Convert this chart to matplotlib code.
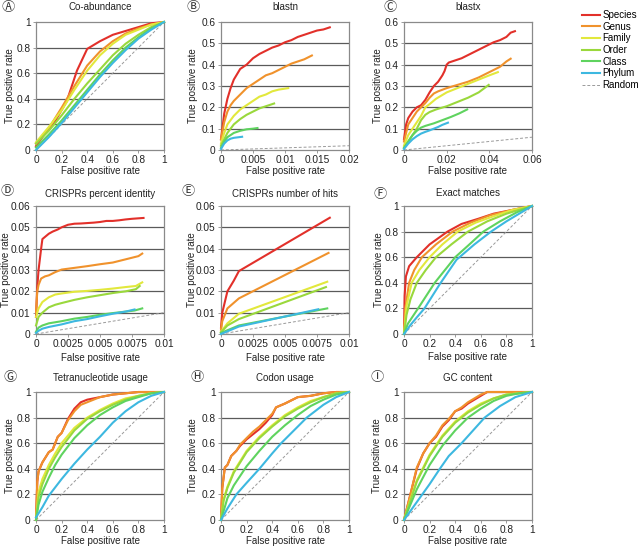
import matplotlib
matplotlib.use("Agg")
import matplotlib.pyplot as plt
from matplotlib.ticker import FuncFormatter

plt.rcParams['font.family'] = ['Liberation Sans', 'DejaVu Sans']

series_names = ["Species", "Genus", "Family", "Order", "Class", "Phylum"]
series_colors = ["#e2302a", "#f0922c", "#e2e83c", "#9ad83c", "#5fd35f", "#3db8e0"]

# (A) Co-abundance
a_species = [(0, 0.03), (0.1, 0.17), (0.14, 0.21), (0.24, 0.38), (0.32, 0.62), (0.4, 0.79),
             (0.5, 0.85), (0.6, 0.9), (0.7, 0.93), (0.8, 0.96), (0.9, 0.99), (1, 1)]
a_genus = [(0, 0.05), (0.1, 0.17), (0.2, 0.33), (0.3, 0.5), (0.4, 0.66), (0.5, 0.77),
           (0.6, 0.85), (0.7, 0.91), (0.8, 0.95), (0.9, 0.98), (1, 1)]
a_family = [(0, 0.06), (0.1, 0.18), (0.2, 0.31), (0.3, 0.47), (0.4, 0.62), (0.5, 0.74),
            (0.6, 0.83), (0.7, 0.9), (0.8, 0.94), (0.9, 0.98), (1, 1)]
a_order = [(0, 0.05), (0.1, 0.15), (0.2, 0.27), (0.3, 0.4), (0.4, 0.52), (0.5, 0.63),
           (0.6, 0.74), (0.7, 0.83), (0.8, 0.9), (0.9, 0.96), (1, 1)]
a_class = [(0, 0.02), (0.1, 0.12), (0.2, 0.23), (0.3, 0.35), (0.4, 0.47), (0.5, 0.59),
           (0.6, 0.7), (0.7, 0.8), (0.8, 0.88), (0.9, 0.95), (1, 1)]
a_phylum = [(0, 0), (0.1, 0.1), (0.2, 0.21), (0.3, 0.33), (0.4, 0.45), (0.5, 0.57),
            (0.6, 0.68), (0.7, 0.78), (0.8, 0.87), (0.9, 0.94), (1, 1)]

# (B) blastn
b_species = [(0, 0.05), (0.0003, 0.12), (0.0005, 0.17), (0.001, 0.24), (0.0015, 0.29), (0.002, 0.33),
             (0.003, 0.38), (0.004, 0.40), (0.005, 0.43), (0.006, 0.45), (0.007, 0.465), (0.008, 0.48),
             (0.009, 0.49), (0.01, 0.505), (0.011, 0.515), (0.012, 0.53), (0.013, 0.54), (0.014, 0.55),
             (0.015, 0.56), (0.016, 0.565), (0.017, 0.575)]
b_genus = [(0, 0.05), (0.0005, 0.13), (0.001, 0.18), (0.0015, 0.21), (0.002, 0.23), (0.003, 0.26),
           (0.004, 0.29), (0.005, 0.31), (0.006, 0.33), (0.007, 0.35), (0.008, 0.36), (0.009, 0.375),
           (0.01, 0.39), (0.011, 0.405), (0.012, 0.415), (0.013, 0.425), (0.0142, 0.443)]
b_family = [(0, 0.03), (0.0005, 0.08), (0.001, 0.12), (0.002, 0.16), (0.003, 0.19), (0.004, 0.21),
            (0.005, 0.23), (0.006, 0.25), (0.007, 0.26), (0.008, 0.275), (0.009, 0.283), (0.0105, 0.29)]
b_order = [(0, 0.02), (0.0005, 0.05), (0.001, 0.08), (0.002, 0.12), (0.003, 0.145), (0.004, 0.165),
           (0.005, 0.18), (0.006, 0.195), (0.007, 0.205), (0.0083, 0.218)]
b_class = [(0, 0.01), (0.0005, 0.04), (0.001, 0.06), (0.002, 0.08), (0.003, 0.09), (0.004, 0.097),
           (0.005, 0.1), (0.0057, 0.103)]
b_phylum = [(0, 0.005), (0.0005, 0.03), (0.001, 0.045), (0.0015, 0.053), (0.002, 0.057), (0.0033, 0.062)]

# (C) blastx
c_species = [(0, 0.05), (0.001, 0.12), (0.002, 0.15), (0.004, 0.18), (0.006, 0.2), (0.008, 0.21),
             (0.01, 0.235), (0.012, 0.27), (0.014, 0.3), (0.016, 0.32), (0.018, 0.35), (0.019, 0.37),
             (0.02, 0.4), (0.021, 0.41), (0.024, 0.42), (0.027, 0.43), (0.03, 0.445), (0.033, 0.46),
             (0.036, 0.475), (0.039, 0.49), (0.042, 0.505), (0.045, 0.515), (0.048, 0.53), (0.05, 0.55),
             (0.052, 0.557)]
c_genus = [(0, 0.04), (0.002, 0.12), (0.004, 0.15), (0.006, 0.18), (0.008, 0.2), (0.01, 0.22),
           (0.012, 0.245), (0.014, 0.265), (0.016, 0.275), (0.02, 0.29), (0.025, 0.305), (0.03, 0.32),
           (0.035, 0.34), (0.04, 0.365), (0.045, 0.39), (0.048, 0.415), (0.05, 0.428)]
c_family = [(0, 0.02), (0.002, 0.07), (0.004, 0.1), (0.006, 0.13), (0.008, 0.16), (0.01, 0.2),
            (0.012, 0.215), (0.015, 0.24), (0.02, 0.27), (0.025, 0.29), (0.03, 0.31), (0.035, 0.33),
            (0.04, 0.35), (0.044, 0.365)]
c_order = [(0, 0.01), (0.002, 0.04), (0.004, 0.07), (0.006, 0.1), (0.008, 0.14), (0.01, 0.165),
           (0.012, 0.178), (0.015, 0.19), (0.02, 0.205), (0.025, 0.225), (0.03, 0.245), (0.035, 0.27),
           (0.0397, 0.305)]
c_class = [(0, 0.01), (0.002, 0.04), (0.004, 0.07), (0.006, 0.09), (0.008, 0.105), (0.01, 0.113),
           (0.014, 0.125), (0.018, 0.14), (0.022, 0.155), (0.026, 0.172), (0.0296, 0.19)]
c_phylum = [(0, 0.005), (0.002, 0.03), (0.004, 0.05), (0.006, 0.065), (0.008, 0.077), (0.01, 0.085),
            (0.012, 0.092), (0.014, 0.1), (0.016, 0.108), (0.018, 0.118), (0.0206, 0.128)]

# (D) CRISPRs percent identity
d_species = [(0, 0.008), (0.0001, 0.022), (0.0002, 0.03), (0.0003, 0.035), (0.0004, 0.04),
             (0.0005, 0.0445), (0.0008, 0.046), (0.001, 0.047), (0.0013, 0.048), (0.0017, 0.049),
             (0.002, 0.05), (0.0025, 0.0512), (0.003, 0.0517), (0.0035, 0.0518), (0.004, 0.052),
             (0.0045, 0.0522), (0.005, 0.0525), (0.0055, 0.053), (0.006, 0.053), (0.0065, 0.0533),
             (0.007, 0.0537), (0.0075, 0.054), (0.0084, 0.0544)]
d_genus = [(0, 0.01), (0.0001, 0.02), (0.0002, 0.023), (0.0004, 0.026), (0.0007, 0.027), (0.001, 0.0275),
           (0.0015, 0.029), (0.002, 0.0302), (0.003, 0.031), (0.004, 0.0318), (0.005, 0.0327),
           (0.006, 0.0335), (0.007, 0.035), (0.008, 0.0365), (0.0083, 0.0377)]
d_family = [(0, 0.008), (0.0002, 0.012), (0.0005, 0.015), (0.001, 0.0172), (0.0015, 0.0185),
            (0.002, 0.019), (0.003, 0.0198), (0.004, 0.0202), (0.005, 0.0207), (0.006, 0.0213),
            (0.007, 0.022), (0.0078, 0.0225), (0.0083, 0.0242)]
d_order = [(0, 0.004), (0.0002, 0.008), (0.0005, 0.01), (0.001, 0.0125), (0.0015, 0.0137),
           (0.002, 0.0145), (0.003, 0.016), (0.004, 0.0172), (0.005, 0.0182), (0.006, 0.0192),
           (0.007, 0.02), (0.0078, 0.021), (0.0081, 0.0225)]
d_class = [(0, 0.001), (0.0002, 0.003), (0.0005, 0.004), (0.001, 0.005), (0.002, 0.006), (0.003, 0.0072),
           (0.004, 0.008), (0.005, 0.009), (0.006, 0.0098), (0.007, 0.0105), (0.0077, 0.011), (0.0083, 0.012)]
d_phylum = [(0, 0.0005), (0.0002, 0.0015), (0.0005, 0.0025), (0.001, 0.0033), (0.002, 0.0045),
            (0.003, 0.006), (0.004, 0.007), (0.005, 0.0083), (0.006, 0.0095), (0.007, 0.0105),
            (0.0077, 0.0115)]

# (E) CRISPRs number of hits
e_species = [(0, 0.003), (0.0001, 0.01), (0.0005, 0.02), (0.001, 0.025), (0.0014, 0.0295), (0.0085, 0.0545)]
e_genus = [(0, 0.002), (0.0001, 0.006), (0.0005, 0.012), (0.0014, 0.0167), (0.0084, 0.038)]
e_family = [(0, 0.001), (0.0005, 0.005), (0.0014, 0.0095), (0.0083, 0.0245)]
e_order = [(0, 0.0008), (0.0005, 0.004), (0.0014, 0.007), (0.0082, 0.022)]
e_class = [(0, 0.0005), (0.0014, 0.004), (0.0083, 0.012)]
e_phylum = [(0, 0), (0.0014, 0.0035), (0.0076, 0.0116)]

# (F) Exact matches
f_species = [(0, 0), (0.005, 0.3), (0.015, 0.45), (0.04, 0.53), (0.1, 0.6), (0.2, 0.7), (0.34, 0.8),
             (0.45, 0.86), (0.58, 0.9), (0.7, 0.94), (0.85, 0.97), (1, 1)]
f_genus = [(0, 0), (0.01, 0.2), (0.04, 0.4), (0.08, 0.5), (0.14, 0.6), (0.25, 0.7), (0.38, 0.8),
           (0.52, 0.87), (0.68, 0.93), (0.85, 0.97), (1, 1)]
f_family = [(0, 0), (0.02, 0.22), (0.06, 0.4), (0.12, 0.5), (0.2, 0.6), (0.3, 0.7), (0.42, 0.8),
            (0.56, 0.87), (0.7, 0.92), (0.85, 0.97), (1, 1)]
f_order = [(0, 0), (0.02, 0.15), (0.05, 0.27), (0.1, 0.4), (0.17, 0.5), (0.25, 0.6), (0.37, 0.7),
           (0.5, 0.8), (0.65, 0.88), (0.8, 0.94), (1, 1)]
f_class = [(0, 0), (0.03, 0.08), (0.11, 0.2), (0.24, 0.4), (0.4, 0.6), (0.5, 0.69), (0.62, 0.8),
           (0.75, 0.88), (0.88, 0.95), (1, 1)]
f_phylum = [(0, 0), (0.05, 0.07), (0.1, 0.13), (0.16, 0.2), (0.28, 0.39), (0.41, 0.58), (0.55, 0.7),
            (0.68, 0.8), (0.8, 0.88), (0.9, 0.94), (1, 1)]

# (G) Tetranucleotide usage
g_species = [(0, 0), (0.01, 0.3), (0.02, 0.38), (0.05, 0.45), (0.1, 0.53), (0.13, 0.55), (0.17, 0.65),
             (0.2, 0.68), (0.25, 0.79), (0.3, 0.87), (0.35, 0.92), (0.4, 0.94), (0.5, 0.96), (0.6, 0.98),
             (0.8, 1), (1, 1)]
g_genus = [(0, 0), (0.01, 0.3), (0.02, 0.38), (0.05, 0.45), (0.1, 0.53), (0.13, 0.55), (0.17, 0.65),
           (0.2, 0.68), (0.25, 0.78), (0.3, 0.85), (0.35, 0.9), (0.4, 0.92), (0.5, 0.96), (0.6, 0.98),
           (0.8, 1), (1, 1)]
g_family = [(0, 0), (0.02, 0.22), (0.05, 0.32), (0.1, 0.43), (0.15, 0.52), (0.2, 0.6), (0.3, 0.72),
            (0.4, 0.8), (0.5, 0.86), (0.6, 0.91), (0.7, 0.95), (0.8, 0.97), (0.9, 0.99), (1, 1)]
g_order = [(0, 0), (0.02, 0.18), (0.05, 0.28), (0.1, 0.4), (0.15, 0.49), (0.2, 0.57), (0.3, 0.7),
           (0.4, 0.79), (0.5, 0.85), (0.6, 0.9), (0.7, 0.94), (0.8, 0.97), (0.9, 0.99), (1, 1)]
g_class = [(0, 0), (0.02, 0.12), (0.05, 0.22), (0.1, 0.33), (0.15, 0.43), (0.2, 0.51), (0.3, 0.64),
           (0.4, 0.74), (0.5, 0.82), (0.6, 0.88), (0.7, 0.93), (0.8, 0.96), (0.9, 0.99), (1, 1)]
g_phylum = [(0, 0.02), (0.05, 0.1), (0.1, 0.19), (0.2, 0.32), (0.3, 0.44), (0.4, 0.55), (0.5, 0.65),
            (0.6, 0.76), (0.7, 0.85), (0.8, 0.92), (0.9, 0.97), (1, 1)]

# (H) Codon usage
h_species = [(0, 0), (0.01, 0.25), (0.03, 0.41), (0.05, 0.43), (0.08, 0.5), (0.12, 0.54), (0.15, 0.58),
             (0.2, 0.63), (0.25, 0.67), (0.3, 0.71), (0.35, 0.76), (0.4, 0.82), (0.43, 0.88), (0.5, 0.91),
             (0.6, 0.96), (0.7, 0.97), (0.8, 0.99), (0.9, 1), (1, 1)]
h_genus = [(0, 0), (0.01, 0.25), (0.03, 0.41), (0.05, 0.43), (0.08, 0.5), (0.12, 0.54), (0.15, 0.59),
           (0.2, 0.64), (0.25, 0.69), (0.3, 0.73), (0.35, 0.78), (0.4, 0.83), (0.43, 0.88), (0.5, 0.91),
           (0.6, 0.96), (0.7, 0.97), (0.8, 0.99), (0.9, 1), (1, 1)]
h_family = [(0, 0), (0.02, 0.16), (0.05, 0.26), (0.1, 0.38), (0.2, 0.54), (0.3, 0.65), (0.4, 0.74),
            (0.5, 0.82), (0.6, 0.88), (0.7, 0.93), (0.8, 0.96), (0.9, 0.99), (1, 1)]
h_order = [(0, 0), (0.02, 0.15), (0.05, 0.25), (0.1, 0.37), (0.2, 0.53), (0.3, 0.64), (0.4, 0.73),
           (0.5, 0.81), (0.6, 0.87), (0.7, 0.92), (0.8, 0.96), (0.9, 0.99), (1, 1)]
h_class = [(0, 0), (0.05, 0.17), (0.1, 0.27), (0.2, 0.42), (0.3, 0.54), (0.4, 0.65), (0.5, 0.74),
           (0.6, 0.82), (0.7, 0.89), (0.8, 0.94), (0.9, 0.98), (1, 1)]
h_phylum = [(0, 0), (0.05, 0.09), (0.12, 0.2), (0.2, 0.29), (0.3, 0.4), (0.4, 0.52), (0.47, 0.6),
            (0.57, 0.7), (0.67, 0.8), (0.8, 0.9), (0.9, 0.96), (1, 1)]

# (I) GC content
i_species = [(0, 0), (0.05, 0.2), (0.1, 0.4), (0.15, 0.52), (0.2, 0.6), (0.25, 0.65), (0.3, 0.73),
             (0.35, 0.78), (0.4, 0.85), (0.45, 0.87), (0.5, 0.91), (0.55, 0.94), (0.6, 0.97), (0.65, 1), (1, 1)]
i_genus = [(0, 0), (0.05, 0.2), (0.1, 0.41), (0.15, 0.52), (0.2, 0.6), (0.25, 0.66), (0.3, 0.74),
           (0.35, 0.79), (0.4, 0.85), (0.45, 0.88), (0.5, 0.92), (0.55, 0.95), (0.6, 0.98), (0.65, 1), (1, 1)]
i_family = [(0, 0), (0.05, 0.16), (0.1, 0.31), (0.2, 0.51), (0.3, 0.66), (0.4, 0.77), (0.5, 0.85),
            (0.6, 0.91), (0.7, 0.95), (0.8, 0.98), (0.9, 0.99), (1, 1)]
i_order = [(0, 0), (0.05, 0.15), (0.1, 0.3), (0.2, 0.5), (0.3, 0.65), (0.4, 0.76), (0.5, 0.84),
           (0.6, 0.9), (0.7, 0.95), (0.8, 0.98), (0.9, 0.99), (1, 1)]
i_class = [(0, 0), (0.05, 0.12), (0.1, 0.24), (0.2, 0.43), (0.3, 0.58), (0.4, 0.7), (0.5, 0.8),
           (0.6, 0.87), (0.7, 0.93), (0.8, 0.97), (0.9, 0.99), (1, 1)]
i_phylum = [(0, 0), (0.05, 0.07), (0.1, 0.14), (0.2, 0.28), (0.28, 0.4), (0.35, 0.5), (0.45, 0.6),
            (0.54, 0.7), (0.63, 0.8), (0.75, 0.89), (0.87, 0.96), (1, 1)]

panel_letters = ["Ⓐ", "Ⓑ", "Ⓒ", "Ⓓ", "Ⓔ", "Ⓕ", "Ⓖ", "Ⓗ", "Ⓘ"]
panel_titles = ["Co-abundance", "blastn", "blastx", "CRISPRs percent identity", "CRISPRs number of hits",
                "Exact matches", "Tetranucleotide usage", "Codon usage", "GC content"]
x_ticks = [[0, 0.2, 0.4, 0.6, 0.8, 1], [0, 0.005, 0.01, 0.015, 0.02], [0, 0.02, 0.04, 0.06],
           [0, 0.0025, 0.005, 0.0075, 0.01], [0, 0.0025, 0.005, 0.0075, 0.01], [0, 0.2, 0.4, 0.6, 0.8, 1],
           [0, 0.2, 0.4, 0.6, 0.8, 1], [0, 0.2, 0.4, 0.6, 0.8, 1], [0, 0.2, 0.4, 0.6, 0.8, 1]]
y_ticks = [[0, 0.2, 0.4, 0.6, 0.8, 1], [0, 0.1, 0.2, 0.3, 0.4, 0.5, 0.6], [0, 0.1, 0.2, 0.3, 0.4, 0.5, 0.6],
           [0, 0.01, 0.02, 0.03, 0.04, 0.05, 0.06], [0, 0.01, 0.02, 0.03, 0.04, 0.05, 0.06],
           [0, 0.2, 0.4, 0.6, 0.8, 1], [0, 0.2, 0.4, 0.6, 0.8, 1], [0, 0.2, 0.4, 0.6, 0.8, 1],
           [0, 0.2, 0.4, 0.6, 0.8, 1]]

panel_curves = [
    [a_species, a_genus, a_family, a_order, a_class, a_phylum],
    [b_species, b_genus, b_family, b_order, b_class, b_phylum],
    [c_species, c_genus, c_family, c_order, c_class, c_phylum],
    [d_species, d_genus, d_family, d_order, d_class, d_phylum],
    [e_species, e_genus, e_family, e_order, e_class, e_phylum],
    [f_species, f_genus, f_family, f_order, f_class, f_phylum],
    [g_species, g_genus, g_family, g_order, g_class, g_phylum],
    [h_species, h_genus, h_family, h_order, h_class, h_phylum],
    [i_species, i_genus, i_family, i_order, i_class, i_phylum],
]

fig = plt.figure(figsize=(6.4, 5.51), dpi=100)

W, H = 640.0, 551.0
col_left = [36, 221, 404]
row_top = [22, 206, 392]
letter_pos = [(8, 7), (193, 7), (390, 7), (7, 192), (188, 192), (380, 194), (10, 378), (197, 378), (377, 378)]
title_pad = [8.5, 8.5, 8.5, 6.5, 6.5, 7.5, 8.0, 8.0, 8.0]
# label centre offsets from the axes edge, in pixels
ylabel_off = [26, 28, 26, 30, 29, 25, 26, 28, 27]
xlabel_off = [21, 21, 21, 24, 24, 23, 21, 21, 21]

fmt = FuncFormatter(lambda v, p: "%g" % v)
grid_color = "#5a5a5a"
spine_color = "#8a8a8a"
text_color = "#222222"

legend_handles = []
for k in range(9):
    r, c = divmod(k, 3)
    ax = fig.add_axes([col_left[c] / W, 1 - (row_top[r] + 128) / H, 128 / W, 128 / H])
    xt, yt = x_ticks[k], y_ticks[k]
    ax.set_xlim(xt[0], xt[-1])
    ax.set_ylim(yt[0], yt[-1])
    ax.set_xticks(xt)
    ax.set_yticks(yt)
    ax.xaxis.set_major_formatter(fmt)
    ax.yaxis.set_major_formatter(fmt)
    for yv in yt[1:-1]:
        ax.axhline(yv, color=grid_color, lw=0.9, zorder=1)
    for s in ax.spines.values():
        s.set_color(spine_color)
        s.set_linewidth(0.9)
    ax.tick_params(labelsize=7.3, length=2.5, width=0.6, color=spine_color, pad=1.5, labelcolor=text_color)
    ax.tick_params(axis="x", pad=1.0)

    xmax = xt[-1]
    rnd, = ax.plot([0, xmax], [0, xmax], color="#9a9a9a", lw=0.7, ls=(0, (3, 2)), zorder=2)
    for j, pts in enumerate(panel_curves[k]):
        xs = [p[0] for p in pts]
        ys = [p[1] for p in pts]
        ln, = ax.plot(xs, ys, color=series_colors[j], lw=1.5, zorder=3, clip_on=False,
                      solid_joinstyle="round")
        if k == 0:
            legend_handles.append(ln)
    if k == 0:
        legend_handles.append(rnd)

    ax.set_title(panel_titles[k], fontsize=7, pad=title_pad[k], color=text_color)
    ax.set_xlabel("False positive rate", fontsize=7, color=text_color, va="center")
    ax.set_ylabel("True positive rate", fontsize=7, color=text_color, va="center")
    ax.xaxis.set_label_coords(0.5, -xlabel_off[k] / 128.0)
    ax.yaxis.set_label_coords(-ylabel_off[k] / 128.0, 0.5)
    lx, ly = letter_pos[k]
    fig.text(lx / W, 1 - ly / H, panel_letters[k], fontsize=9.5, ha="center", va="center",
             family=["Noto Sans CJK JP", "DejaVu Sans"], color="#333333")

fig.legend(legend_handles, series_names + ["Random"], loc="upper left",
           bbox_to_anchor=(582 / W, 1 - 10 / H), frameon=False, fontsize=7,
           handlelength=1.8, handletextpad=0.3, labelspacing=0.17, borderaxespad=0, borderpad=0)

fig.savefig("out.png", dpi=100)
